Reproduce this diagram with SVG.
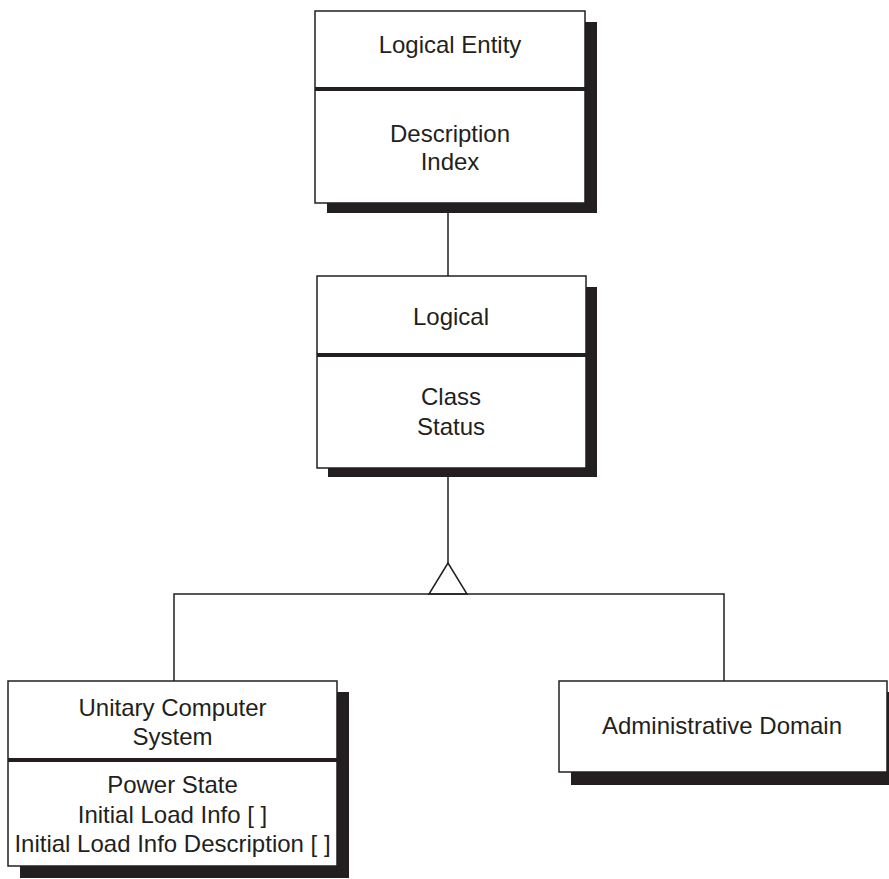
<svg xmlns="http://www.w3.org/2000/svg" width="889" height="879" viewBox="0 0 889 879">
  <style>
    .box { fill: #ffffff; stroke: #231f20; stroke-width: 1.5; }
    .shadow { fill: #231f20; stroke: none; }
    .div { stroke: #231f20; stroke-width: 4; }
    .conn { fill: none; stroke: #231f20; stroke-width: 1.5; }
    text { font-family: "Liberation Sans", Arial, sans-serif; font-size: 24px; fill: #231f20; text-anchor: middle; }
  </style>
  <rect width="889" height="879" fill="#ffffff"/>
  <g id="connectors">
    <line class="conn" x1="448" y1="203" x2="448" y2="276"/>
    <line class="conn" x1="448" y1="468" x2="448" y2="563"/>
    <polygon class="conn" points="448,563 429,594 467,594"/>
    <polyline class="conn" points="174,681 174,594 724,594 724,681"/>
  </g>
  <g id="logical-entity">
    <rect class="shadow" x="327" y="22" width="270" height="191"/>
    <rect class="box" x="315" y="11" width="270" height="192"/>
    <line class="div" x1="315" y1="89" x2="585" y2="89"/>
    <text x="450" y="53">Logical Entity</text>
    <text x="450" y="142">Description</text>
    <text x="450" y="170">Index</text>
  </g>
  <g id="logical">
    <rect class="shadow" x="328" y="287" width="269" height="190"/>
    <rect class="box" x="317" y="276" width="269" height="192"/>
    <line class="div" x1="317" y1="355" x2="586" y2="355"/>
    <text x="451" y="325">Logical</text>
    <text x="451" y="405">Class</text>
    <text x="451" y="435">Status</text>
  </g>
  <g id="unitary-computer-system">
    <rect class="shadow" x="20" y="692" width="329" height="186"/>
    <rect class="box" x="8" y="681" width="329" height="185"/>
    <line class="div" x1="8" y1="760" x2="337" y2="760"/>
    <text x="172.5" y="716">Unitary Computer</text>
    <text x="172.5" y="745">System</text>
    <text x="172.5" y="793">Power State</text>
    <text x="172.5" y="823">Initial Load Info [ ]</text>
    <text x="172.5" y="852">Initial Load Info Description [ ]</text>
  </g>
  <g id="administrative-domain">
    <rect class="shadow" x="571" y="692" width="330" height="93"/>
    <rect class="box" x="559" y="681" width="328" height="91"/>
    <text x="722" y="734">Administrative Domain</text>
  </g>
</svg>
